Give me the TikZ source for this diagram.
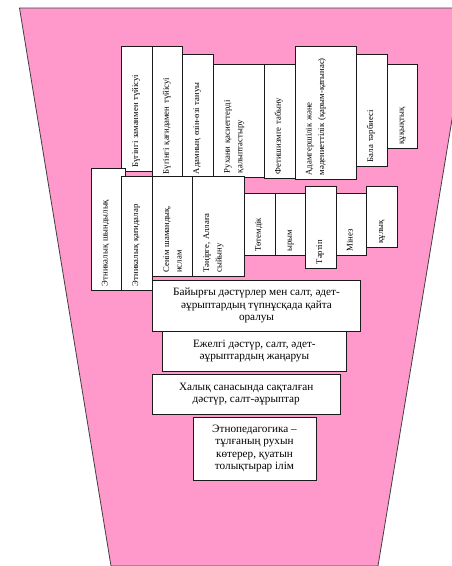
\documentclass[tikz,border=0pt]{standalone}
\usepackage{fontspec}
\setmainfont{Liberation Serif}
\definecolor{Funnel}{HTML}{FF99CC}
\definecolor{FunnelEdge}{HTML}{404040}
\definecolor{BoxEdge}{HTML}{1A1A1A}
\newcommand\sidefont{\fontsize{8.7}{12.5}\selectfont}
\newcommand\stepfont{\fontsize{11.2}{12.3}\selectfont}
\begin{document}
\begin{tikzpicture}[x=1pt,y=-1pt,vbox/.style={draw=BoxEdge,fill=white,line width=.7pt,rotate=90,inner xsep=4pt,inner ysep=0pt,text height=16.5pt,align=left,font=\sidefont},hbox/.style={draw=BoxEdge,fill=white,line width=.7pt,inner sep=0pt,align=center,font=\stepfont}]
\useasboundingbox(0,0)rectangle(452,566);\clip(0,0)rectangle(452,566);
\filldraw[fill=Funnel,draw=FunnelEdge,line width=.8pt](19.5,8)--(470.5,8)--(378,566)--(111,566)--cycle;
% upper row
\node[vbox,text width=116.8pt,text depth=14.1pt](zaman)at(137,109.1){Бүгінгі заманмен түйісуі};
\node[vbox,text width=123.3pt,text depth=13.9pt](qagida)at(167.5,112.35){Бүгінгі қағидамен түйісуі};
\node[vbox,text width=115.7pt,text depth=14.1pt](tanu)at(198,116.15){Адамның өзін-өзі тануы};
\node[vbox,text width=104.7pt,text depth=34.5pt](rukhani)at(238.8,120.65){Рухани қасиеттерді\\қалыптастыру};
\node[vbox,text width=106pt,text depth=14.2pt](fetish)at(279.65,121.3){Фетишизмге табыну};
\node[vbox,text width=124.6pt,text depth=45.2pt](adamger)at(325.85,113){Адамгершілік және\\мәдениеттілік (қарым-қатынас)};
\node[vbox,text width=103.7pt,text depth=14.1pt](bala)at(372,110.15){Бала тәрбиесі};
\node[vbox,text width=76pt,text depth=13.9pt](quqyq)at(402.5,106.3){құқықтық};
% lower row
\node[vbox,text width=113.7pt,text depth=17.5pt](shyn)at(108,229.15){Этникалық шындылық};
\node[vbox,text width=106pt,text depth=14.1pt](etqag)at(137,233){Этникалық қағидалар};
\node[vbox,text width=92.7pt,text depth=23.5pt](senim)at(172.7,226.35){Сенім шамандық,\\ислам};
\node[vbox,text width=92.7pt,text depth=35.1pt](tangir)at(218.5,226.35){Тәңірге, Аллаға\\сыйыну};
\node[vbox,text width=54.4pt,text depth=14.5pt](totem)at(259.8,224.5){Төтемдік};
\node[vbox,text width=54pt,text depth=13.9pt](yrym)at(290.5,224.3){ырым};
\node[vbox,text width=73.6pt,text depth=13.8pt](tartip)at(320.85,227.5){Тәртіп};
\node[vbox,text width=54pt,text depth=14.2pt](minez)at(351.35,224.3){Мінез};
\node[vbox,text width=52.6pt,text depth=14.1pt](qulyq)at(382,217){құлық};
% steps
\node[hbox,minimum width=208.4pt,minimum height=51pt](bayyr)at(256.5,305.5){Байырғы дәстүрлер мен салт, әдет-\\әұрыптардың түпнұсқада қайта\\оралуы};
\node[hbox,minimum width=184.2pt,minimum height=40pt](ezhelgi)at(254.4,351){Ежелгі дәстүр, салт, әдет-\\әұрыптардың жаңаруы};
\node[hbox,minimum width=187.7pt,minimum height=40pt](halyq)at(246.15,394){Халық санасында сақталған\\дәстүр, салт-әұрыптар};
\node[hbox,minimum width=123pt,minimum height=63pt](etnoped)at(254.5,448.5){Этнопедагогика –\\тұлғаның рухын\\көтерер, қуатын\\толықтырар ілім};
\end{tikzpicture}
\end{document}
